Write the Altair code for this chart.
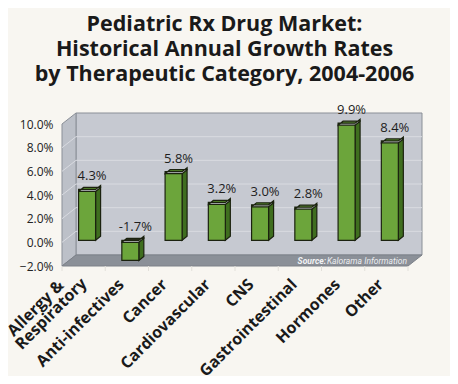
import altair as alt
import pandas as pd

# ---- data ----
categories = ["Allergy &\nRespiratory", "Anti-infectives", "Cancer", "Cardiovascular",
              "CNS", "Gastrointestinal", "Hormones", "Other"]
growth = [4.3, -1.7, 5.8, 3.2, 3.0, 2.8, 9.9, 8.4]
y_ticks = [-2, 0, 2, 4, 6, 8, 10]
title_lines = ["Pediatric Rx Drug Market:", "Historical Annual Growth Rates",
               "by Therapeutic Category, 2004-2006"]
source_bold = "Source:"
source_text = "Kalorama Information"

# ---- geometry of the pseudo-3D frame ----
W, H = 346, 142
XL, XR = -0.58, 7.42
YL, YH = y_ticks[0], y_ticks[-1]
PXU = W / (XR - XL)
PYU = H / (YH - YL)
WDX, WDY = 14 / PXU, 11 / PYU        # wall depth
HW = 8.5 / PXU                        # bar half width
BDX, BDY = 5 / PXU, 4 / PYU           # bar depth

xs = alt.Scale(domain=[XL, XR], nice=False, zero=False)
ys = alt.Scale(domain=[YL, YH], nice=False, zero=False)
yaxis = alt.Axis(values=y_ticks, labelExpr="format(datum.value, '.1f') + '%'",
                 domain=False, ticks=False, grid=False, labelPadding=9,
                 labelFont="Open Sans", labelFontSize=12, labelColor="#222222", title=None)


def X(f):
    return alt.X(f, type="quantitative", scale=xs, axis=None)


def Y(f):
    return alt.Y(f, type="quantitative", scale=ys, axis=yaxis)


def YD(v):
    return alt.Y(datum=v, type="quantitative", scale=ys, axis=yaxis)


# ---- tables built from the arrays ----
n = len(categories)
bars = pd.DataFrame({
    "i": list(range(n)),
    "v": growth,
})
bars["L"] = bars["i"] - HW
bars["R"] = bars["i"] + HW
bars["top"] = bars["v"].clip(lower=0)
bars["bot"] = bars["v"].clip(upper=0)
bars["lab"] = [f"{v:.1f}%" for v in growth]

side_rows, top_rows = [], []
for i, v in enumerate(growth):
    t, b = max(v, 0), min(v, 0)
    side_rows += [dict(i=i, v=v, x=i + HW, y=b, y2=t),
                  dict(i=i, v=v, x=i + HW + BDX, y=b + BDY, y2=t + BDY)]
    top_rows += [dict(i=i, v=v, x=i - HW, y=t, y2=t),
                 dict(i=i, v=v, x=i - HW + BDX, y=t, y2=t + BDY),
                 dict(i=i, v=v, x=i + HW, y=t, y2=t + BDY),
                 dict(i=i, v=v, x=i + HW + BDX, y=t + BDY, y2=t + BDY)]
side_df = pd.DataFrame(side_rows)
top_df = pd.DataFrame(top_rows)

single = pd.DataFrame([{"i": i, "t": c} for i, c in enumerate(categories) if "\n" not in c])
multi_first = pd.DataFrame([{"i": i, "t": c.split("\n")[0]}
                            for i, c in enumerate(categories) if "\n" in c])
multi_last = pd.DataFrame([{"i": i, "t": c.split("\n")[-1]}
                           for i, c in enumerate(categories) if "\n" in c])

wall_df = pd.DataFrame([dict(x=XL + WDX, x2=XR + WDX, y=YL + WDY, y2=YH + WDY)])
side_wall_df = pd.DataFrame([dict(x=XL, y=YL, y2=YH),
                             dict(x=XL + WDX, y=YL + WDY, y2=YH + WDY)])
floor_df = pd.DataFrame([dict(x=XL, y=YL, y2=YL),
                         dict(x=XL + WDX, y=YL, y2=YL + WDY),
                         dict(x=XR, y=YL, y2=YL + WDY),
                         dict(x=XR + WDX, y=YL + WDY, y2=YL + WDY)])
grid_df = pd.DataFrame(
    [dict(x=XL + WDX, x2=XR + WDX, y=k + WDY, y2=k + WDY) for k in y_ticks[1:-1]] +
    [dict(x=XL, x2=XL + WDX, y=k, y2=k + WDY) for k in y_ticks[1:-1]])
tick_df = pd.DataFrame([dict(x=XL + k, y=YL, y2=YL - 5 / PYU) for k in range(n + 1)])
src_df = pd.DataFrame([dict(x=XR, y=YL, a=source_bold, b=source_text)])

EDGE = "#8a8f97"
OUT = "#1b220f"
SRC_FONT = "Roboto"
LAB = dict(angle=315, align="right", baseline="middle", font="Open Sans", fontSize=16,
           fontWeight="bold", color="#1a1a1a")

wall = alt.Chart(wall_df).mark_rect(fill="#c6c9d1", stroke=EDGE, strokeWidth=1).encode(
    x=X("x"), x2="x2", y=Y("y"), y2="y2")
side_wall = alt.Chart(side_wall_df).mark_area(orient="vertical", fill="#bcc0c8", stroke=EDGE,
                                              strokeWidth=1).encode(x=X("x"), y=Y("y"), y2="y2")
grid = alt.Chart(grid_df).mark_rule(color="#d9dbe1", strokeWidth=1).encode(
    x=X("x"), x2="x2", y=Y("y"), y2="y2")
floor = alt.Chart(floor_df).mark_area(orient="vertical", fill="#8b9098", stroke="#7c8189",
                                      strokeWidth=1).encode(x=X("x"), y=Y("y"), y2="y2")
ticks = alt.Chart(tick_df).mark_rule(color="#e2e0da", strokeWidth=1).encode(
    x=X("x"), y=Y("y"), y2="y2")

src_a = alt.Chart(src_df).mark_text(align="right", baseline="alphabetic", dx=-82, dy=-2,
                                    font=SRC_FONT, fontSize=8.5, fontStyle="italic",
                                    fontWeight="bold",
                                    color="#f2f3f5").encode(x=X("x"), y=Y("y"), text="a:N")
src_b = alt.Chart(src_df).mark_text(align="right", baseline="alphabetic", dx=-1, dy=-2,
                                    font=SRC_FONT, fontSize=8.5, fontStyle="italic",
                                    color="#eceef1").encode(x=X("x"), y=Y("y"), text="b:N")

side = alt.Chart(side_df).mark_area(orient="vertical", fill="#3f6e1f", stroke=OUT,
                                    strokeWidth=1.2, yOffset=-2).encode(
    x=X("x"), y=Y("y"), y2="y2", detail="i:N")
topf = alt.Chart(top_df).mark_area(orient="vertical", stroke=OUT, strokeWidth=1.2,
                                   yOffset=-2).encode(
    x=X("x"), y=Y("y"), y2="y2", detail="i:N",
    fill=alt.condition("datum.v < 0", alt.value("#2b2d1c"), alt.value("#5c9530")))
front = alt.Chart(bars).mark_rect(fill="#6ca53b", stroke=OUT, strokeWidth=1.2,
                                  yOffset=-2).encode(
    x=X("L"), x2="R", y=Y("bot"), y2="top")

vals = alt.Chart(bars).mark_text(baseline="alphabetic", align="center", dx=5, dy=-11,
                                 font="Open Sans", fontSize=13, color="#1e1e1e").encode(
    x=X("i"), y=Y("top"), text="lab:N")

xlab = alt.Chart(single).mark_text(xOffset=-9, yOffset=16, **LAB).encode(
    x=X("i"), y=YD(YL), text="t:N")
xlab_last = alt.Chart(multi_last).mark_text(xOffset=-3, yOffset=15, **LAB).encode(
    x=X("i"), y=YD(YL), text="t:N")
xlab_first = alt.Chart(multi_first).mark_text(xOffset=-26, yOffset=17, **LAB).encode(
    x=X("i"), y=YD(YL), text="t:N")

chart = alt.layer(
    wall, side_wall, grid, floor, ticks, src_a, src_b, side, topf, front, vals,
    xlab, xlab_last, xlab_first
).properties(
    width=W, height=H,
    autosize="none",
    padding={"left": 54, "top": 116, "right": 42, "bottom": 110},
    background="#f8f6f1",
    title=alt.TitleParams(text=title_lines, anchor="middle", font="Open Sans", fontSize=21.5,
                          fontWeight="bold", color="#1a1a1a", lineHeight=25, offset=-3,
                          dx=-10.5, baseline="bottom", frame="group"),
).configure_view(stroke=None)

chart.save("out.html", embed_options={"renderer": "svg", "actions": False})
